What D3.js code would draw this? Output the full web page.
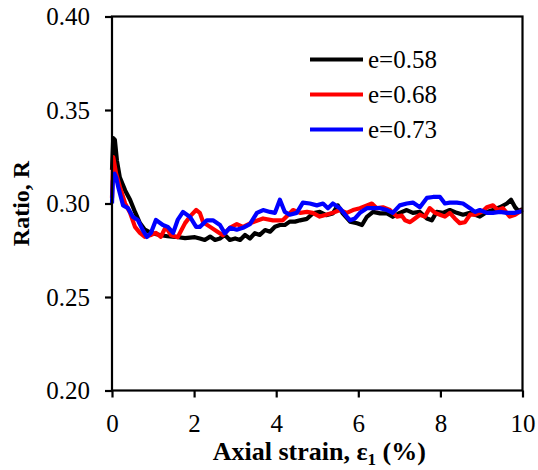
<!DOCTYPE html>
<html>
<head>
<meta charset="utf-8">
<script src="https://cdn.jsdelivr.net/npm/d3@7"></script>
<style>
  body { margin: 0; background: #fff; }
  svg { display: block; font-family: "Liberation Serif", "Times New Roman", serif; }
</style>
</head>
<body>
<div id="chart"></div>
<script>
// values
const seriesNames = ['e=0.58', 'e=0.68', 'e=0.73'];
const seriesColors = ['#000000', '#ff0000', '#0000ff'];
const xTicks = [0, 2, 4, 6, 8, 10];
const yTicks = [0.20, 0.25, 0.30, 0.35, 0.40];

const strain058 = [0, 0.03, 0.07, 0.12, 0.19, 0.32, 0.44, 0.56, 0.68, 0.8, 0.95, 1.19, 1.35, 1.53, 1.78, 2.02,
  2.14, 2.26, 2.39, 2.51, 2.63, 2.75, 2.87, 3.0, 3.12, 3.24, 3.36, 3.48, 3.6, 3.73, 3.85, 3.97, 4.09, 4.21,
  4.33, 4.46, 4.58, 4.75, 4.89, 5.06, 5.22, 5.38, 5.5, 5.62, 5.8, 5.97, 6.09, 6.21, 6.36, 6.53, 6.7, 6.84,
  7.01, 7.18, 7.33, 7.5, 7.67, 7.79, 7.91, 8.06, 8.23, 8.4, 8.55, 8.72, 8.96, 9.13, 9.28, 9.45, 9.62, 9.72,
  9.82, 9.9, 10];
const ratio058 = [0.318, 0.335, 0.334, 0.323, 0.314, 0.307, 0.302, 0.2955, 0.2895, 0.286, 0.2843, 0.283, 0.2825, 0.2822, 0.2815, 0.282,
  0.2813, 0.2805, 0.2823, 0.2805, 0.2813, 0.2832, 0.2805, 0.2813, 0.2805, 0.2832, 0.2813, 0.2841, 0.2832, 0.2858, 0.2849, 0.2876, 0.2885, 0.2885,
  0.2903, 0.2903, 0.291, 0.2918, 0.2947, 0.2955, 0.2938, 0.2947, 0.299, 0.2947, 0.2903, 0.2894, 0.2885, 0.2929, 0.2955, 0.2947, 0.2947, 0.2929,
  0.295, 0.2965, 0.295, 0.2955, 0.292, 0.291, 0.2955, 0.295, 0.2965, 0.295, 0.294, 0.295, 0.293, 0.2955, 0.2965, 0.298, 0.3, 0.302,
  0.298, 0.296, 0.297];

const strain068 = [0, 0.03, 0.1, 0.19, 0.32, 0.44, 0.56, 0.68, 0.8, 0.93, 1.07, 1.19, 1.31, 1.44, 1.6, 1.78, 1.93,
  2.05, 2.14, 2.22, 2.39, 2.56, 2.7, 2.87, 3.04, 3.19, 3.43, 3.68, 3.92, 4.16, 4.41, 4.58, 4.75, 4.89, 5.06,
  5.22, 5.38, 5.55, 5.72, 5.87, 6.04, 6.21, 6.33, 6.45, 6.6, 6.77, 6.94, 7.06, 7.14, 7.26, 7.38, 7.5, 7.62,
  7.74, 7.87, 7.99, 8.11, 8.23, 8.35, 8.47, 8.6, 8.72, 8.84, 9.01, 9.13, 9.28, 9.4, 9.52, 9.69, 9.82, 10];
const ratio068 = [0.303, 0.3248, 0.316, 0.309, 0.3, 0.295, 0.2875, 0.2843, 0.2822, 0.283, 0.2843, 0.2822, 0.2875, 0.283, 0.282, 0.2895, 0.2938,
  0.2965, 0.295, 0.29, 0.2875, 0.285, 0.283, 0.287, 0.289, 0.2875, 0.29, 0.292, 0.291, 0.291, 0.2965, 0.295, 0.2955, 0.295, 0.293,
  0.294, 0.295, 0.2965, 0.295, 0.2965, 0.2975, 0.299, 0.3, 0.2975, 0.298, 0.2965, 0.293, 0.2935, 0.291, 0.29, 0.292, 0.294, 0.293,
  0.2975, 0.295, 0.294, 0.293, 0.295, 0.292, 0.2895, 0.29, 0.294, 0.294, 0.2955, 0.298, 0.299, 0.2965, 0.2975, 0.293, 0.294, 0.2965];

const strain073 = [0, 0.02, 0.06, 0.1, 0.15, 0.27, 0.39, 0.51, 0.63, 0.75, 0.85, 0.95, 1.07, 1.24, 1.36, 1.49, 1.6, 1.73,
  1.9, 2.05, 2.14, 2.31, 2.46, 2.63, 2.75, 2.87, 3.04, 3.19, 3.36, 3.53, 3.68, 3.85, 3.97, 4.09, 4.21, 4.33,
  4.5, 4.65, 4.82, 4.99, 5.14, 5.26, 5.38, 5.55, 5.72, 5.8, 5.92, 6.04, 6.21, 6.36, 6.53, 6.7, 6.84, 7.01,
  7.18, 7.33, 7.5, 7.67, 7.82, 7.99, 8.11, 8.23, 8.4, 8.55, 8.72, 8.84, 8.96, 9.13, 9.28, 9.45, 9.62, 9.8, 10];
const ratio073 = [0.3, 0.312, 0.316, 0.314, 0.309, 0.299, 0.2975, 0.2928, 0.2912, 0.2858, 0.2821, 0.2843, 0.2912, 0.2885, 0.2875, 0.2843, 0.2912, 0.2955,
  0.2928, 0.2875, 0.2875, 0.291, 0.291, 0.2885, 0.284, 0.287, 0.286, 0.287, 0.289, 0.295, 0.2965, 0.2955, 0.295, 0.302, 0.2955, 0.294,
  0.295, 0.3005, 0.3, 0.299, 0.3, 0.2975, 0.3, 0.2975, 0.293, 0.291, 0.292, 0.295, 0.2975, 0.2975, 0.2975, 0.2965, 0.295, 0.299,
  0.3, 0.3005, 0.298, 0.303, 0.3035, 0.3035, 0.3, 0.3005, 0.3005, 0.3, 0.2975, 0.2955, 0.2965, 0.295, 0.295, 0.2955, 0.295, 0.295, 0.296];

const seriesX = [strain058, strain068, strain073];
const seriesY = [ratio058, ratio068, ratio073];

const totalWidth = 538;
const totalHeight = 470;
const margin = { top: 16.5, right: 15.5, bottom: 79.5, left: 112 };
const width = totalWidth - margin.left - margin.right;
const height = totalHeight - margin.top - margin.bottom;

const svg = d3.select('#chart')
  .append('svg')
  .attr('width', totalWidth)
  .attr('height', totalHeight);

const g = svg.append('g')
  .attr('transform', `translate(${margin.left},${margin.top})`);

const x = d3.scaleLinear().domain([0, 10]).range([0, width]);
const y = d3.scaleLinear().domain([0.20, 0.40]).range([height, 0]);

// series lines
const line = d3.line()
  .x(d => x(d[0]))
  .y(d => y(d[1]));

seriesX.forEach((xs, i) => {
  const pts = xs.map((v, j) => [v, seriesY[i][j]]);
  g.append('path')
    .datum(pts)
    .attr('fill', 'none')
    .attr('stroke', seriesColors[i])
    .attr('stroke-width', 4.2)
    .attr('stroke-linejoin', 'round')
    .attr('d', line);
});

// frame
g.append('rect')
  .attr('width', width)
  .attr('height', height)
  .attr('fill', 'none')
  .attr('stroke', '#000')
  .attr('stroke-width', 2.2);

// axes
const xAxis = g.append('g')
  .attr('transform', `translate(0,${height})`)
  .call(d3.axisBottom(x).tickValues(xTicks).tickSize(7).tickPadding(17).tickFormat(d3.format('d')));

const yAxis = g.append('g')
  .call(d3.axisLeft(y).tickValues(yTicks).tickSize(7).tickPadding(15).tickFormat(d3.format('.2f')));

[xAxis, yAxis].forEach(ax => {
  ax.select('.domain').remove();
  ax.selectAll('line').attr('stroke', '#000').attr('stroke-width', 2.2);
  ax.selectAll('text')
    .attr('fill', '#000')
    .style('font-family', '"Liberation Serif", "Times New Roman", serif')
    .style('font-size', '25px');
});

// axis titles
const xTitle = svg.append('text')
  .attr('x', margin.left + width / 2 + 2)
  .attr('y', 460)
  .attr('text-anchor', 'middle')
  .style('font-size', '26px')
  .style('font-weight', 'bold');
xTitle.append('tspan').text('Axial strain, ε');
xTitle.append('tspan').attr('dy', 5).style('font-size', '17px').text('1');
xTitle.append('tspan').attr('dy', -5).text(' (%)');

svg.append('text')
  .attr('transform', `translate(29,${margin.top + height / 2}) rotate(-90)`)
  .attr('text-anchor', 'middle')
  .style('font-size', '24px')
  .style('font-weight', 'bold')
  .text('Ratio, R');

// legend
const legend = svg.append('g').attr('transform', 'translate(310,59.5)');
seriesNames.forEach((name, i) => {
  const row = legend.append('g').attr('transform', `translate(0,${i * 35})`);
  row.append('line')
    .attr('x1', 0).attr('x2', 53)
    .attr('stroke', seriesColors[i])
    .attr('stroke-width', 4);
  row.append('text')
    .attr('x', 58)
    .attr('dy', '0.33em')
    .style('font-size', '25px')
    .text(name);
});
</script>
</body>
</html>
